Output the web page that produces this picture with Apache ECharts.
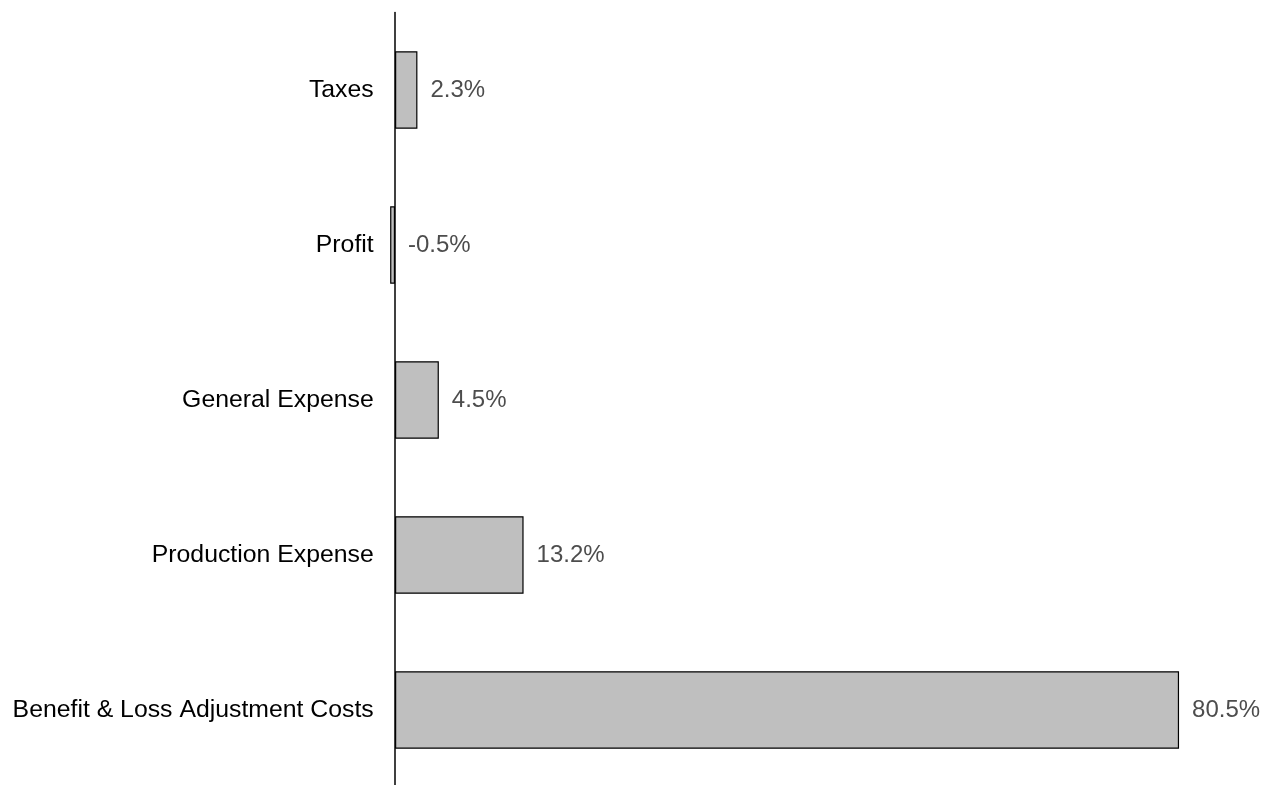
<!DOCTYPE html>
<html>
<head>
<meta charset="utf-8">
<script src="https://cdn.jsdelivr.net/npm/echarts@6/dist/echarts.min.js"></script>
<style>
  html, body { margin: 0; padding: 0; background: #fff; }
  #chart { width: 1267px; height: 785px; }
</style>
</head>
<body>
<div id="chart"></div>
<script>
// Cost components, listed bottom to top as the category axis draws them
const categories = ['Benefit & Loss Adjustment Costs', 'Production Expense', 'General Expense', 'Profit', 'Taxes'];
const shares = [80.5, 13.2, 4.5, -0.5, 2.3];

const chart = echarts.init(document.getElementById('chart'), null, { renderer: 'canvas' });

chart.setOption({
  animation: false,
  backgroundColor: '#ffffff',
  grid: {
    left: 350.7, top: 12.5, width: 867.8, height: 775,
    containLabel: false,
    outerBoundsMode: 'none'
  },
  xAxis: {
    type: 'value',
    min: -4.55,
    max: 84.55,
    show: false
  },
  yAxis: {
    type: 'category',
    data: categories,
    axisLine: { show: true, onZero: true, lineStyle: { color: '#000', width: 1.5 } },
    axisTick: { show: false },
    splitLine: { show: false },
    axisLabel: {
      // labels are anchored at the grid edge; pull them in so they sit 21px left of the zero line
      margin: -23,
      color: '#000',
      fontFamily: 'Liberation Sans, Arial, sans-serif',
      fontSize: 24.8
    }
  },
  series: [{
    type: 'bar',
    data: shares,
    barCategoryGap: '50%',
    itemStyle: { color: '#bfbfbf', borderColor: '#000', borderWidth: 1.2 },
    label: {
      show: true,
      position: 'right',
      distance: 13,
      color: '#4d4d4d',
      fontFamily: 'Liberation Sans, Arial, sans-serif',
      fontSize: 24,
      formatter: p => p.value.toFixed(1) + '%'
    }
  }]
});
</script>
</body>
</html>
